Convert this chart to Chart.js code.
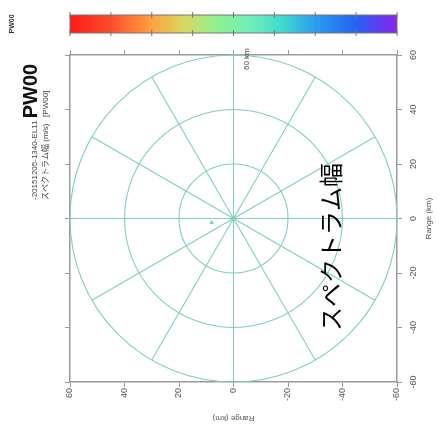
<!DOCTYPE html>
<html><head><meta charset="utf-8">
<script src="https://cdn.jsdelivr.net/npm/chart.js@4/dist/chart.umd.min.js"></script>
<style>html,body{margin:0;padding:0;background:#fff}#wrap{width:439px;height:432px}</style>
</head><body><div id="wrap"><canvas id="c" width="439" height="432"></canvas></div>
<script>
const ringValues = [20, 40, 60];
const spokeAngles = [0, 30, 60, 90, 120, 150, 180, 210, 240, 270, 300, 330];
const axisTickValues = [-60, -40, -20, 0, 20, 40, 60];
const colorbarLabels = ['0', '1', '2', '3', '4', '5', '6', '7', '8'];
const markPoints = [{x: 8, y: -1.5}];
const titleSmall = '-20151205-1340-EL11 ';
const titleBig = 'PW00';
const titleLine2 = 'スペクトラム幅 (m/s)   [PW00]';
const bigLabel = 'スペクトラム幅';
const axisTitle = 'Range (km)';
const ringLabel = '60 km';
const colorbarName = 'PW00';

const GRID = '#7fd0b8';
const AX = '#9a9a9a';
const TXT = '#555';

function fixSize(prop, v){ return function(s){ s[prop] = v; }; }
function axisCfg(pos, reverse, sizeProp){
  return {
    type: 'linear', position: pos, reverse: reverse, min: -60, max: 60,
    ticks: {display: false, stepSize: 20},
    grid: {drawOnChartArea: false, drawTicks: true, tickLength: 5, color: AX, lineWidth: 1},
    border: {display: true, color: AX, width: 1.5},
    afterFit: fixSize(sizeProp, 6)
  };
}

const polarPlugin = {
  id: 'polar',
  beforeDatasetsDraw(chart){
    const ctx = chart.ctx, xs = chart.scales.x, ys = chart.scales.y;
    const cx = xs.getPixelForValue(0), cy = ys.getPixelForValue(0);
    ctx.save();
    ctx.strokeStyle = GRID; ctx.lineWidth = 1.1;
    ringValues.forEach(r => {
      const rx = Math.abs(xs.getPixelForValue(r) - cx), ry = Math.abs(ys.getPixelForValue(r) - cy);
      ctx.beginPath(); ctx.ellipse(cx, cy, rx, ry, 0, 0, Math.PI*2); ctx.stroke();
    });
    const rmax = ringValues[ringValues.length-1];
    spokeAngles.forEach(a => {
      const t = a*Math.PI/180;
      const px = xs.getPixelForValue(rmax*Math.cos(t)), py = ys.getPixelForValue(rmax*Math.sin(t));
      ctx.beginPath(); ctx.moveTo(cx, cy); ctx.lineTo(px, py); ctx.stroke();
    });
    ctx.restore();
  },
  afterDraw(chart){
    const ctx = chart.ctx, xs = chart.scales.x, ys = chart.scales.y, ca = chart.chartArea;
    ctx.save();
    function rtext(txt, x, y, align, font, color, rot){
      ctx.save(); ctx.translate(x, y); ctx.rotate(rot === undefined ? -Math.PI/2 : rot);
      ctx.font = font; ctx.fillStyle = color; ctx.textAlign = align; ctx.textBaseline = 'middle';
      ctx.fillText(txt, 0, 0); ctx.restore();
    }
    // bottom tick labels
    axisTickValues.forEach(v => rtext(String(v), xs.getPixelForValue(v), ca.bottom + 6, 'right', '9px "Liberation Sans", Arial, sans-serif', TXT));
    // right tick labels
    axisTickValues.forEach(v => rtext(String(v), ca.right + 17, ys.getPixelForValue(v), 'center', '9px "Liberation Sans", Arial, sans-serif', TXT));
    // axis titles
    rtext(axisTitle, (ca.left+ca.right)/2, ca.bottom + 36, 'center', '8px "Liberation Sans", Arial, sans-serif', TXT, Math.PI);
    rtext(axisTitle, ca.right + 32, (ca.top+ca.bottom)/2, 'center', '8px "Liberation Sans", Arial, sans-serif', TXT);
    // ring label
    rtext(ringLabel, xs.getPixelForValue(0) + 13, ys.getPixelForValue(60) + 15, 'left', '8px "Liberation Sans", Arial, sans-serif', '#444');
    // colorbar
    const cbTop = 15, cbBot = 33;
    const g = ctx.createLinearGradient(ca.left, 0, ca.right, 0);
    g.addColorStop(0.00, '#ff1a1a');
    g.addColorStop(0.12, '#ff4a2a');
    g.addColorStop(0.25, '#ffa040');
    g.addColorStop(0.35, '#d8d860');
    g.addColorStop(0.45, '#90f090');
    g.addColorStop(0.55, '#70f0b8');
    g.addColorStop(0.65, '#40d8d0');
    g.addColorStop(0.76, '#2898f0');
    g.addColorStop(0.88, '#2860f0');
    g.addColorStop(1.00, '#8a20f0');
    ctx.fillStyle = g; ctx.fillRect(ca.left, cbTop, ca.right-ca.left, cbBot-cbTop);
    ctx.strokeStyle = '#777'; ctx.lineWidth = 1; ctx.strokeRect(ca.left, cbTop, ca.right-ca.left, cbBot-cbTop);
    colorbarLabels.forEach((l, i) => {
      const px = ca.left + (ca.right-ca.left)*i/(colorbarLabels.length-1);
      ctx.beginPath(); ctx.moveTo(px, cbTop-3); ctx.lineTo(px, cbTop+3); ctx.moveTo(px, cbBot-3); ctx.lineTo(px, cbBot+3); ctx.stroke();
      rtext(l, px, -3, 'center', '9px "Liberation Sans", Arial, sans-serif', TXT, 0);
    });
    rtext(colorbarName, 12, 24, 'center', 'bold 7px "Liberation Sans", Arial, sans-serif', '#333');
    // titles
    ctx.save(); ctx.translate(37, 200); ctx.rotate(-Math.PI/2);
    ctx.textBaseline = 'alphabetic'; ctx.textAlign = 'left'; ctx.fillStyle = '#444';
    ctx.font = '8px "Liberation Sans", "Noto Sans CJK JP", sans-serif';
    ctx.fillText(titleSmall, 0, 0);
    const w = ctx.measureText(titleSmall).width;
    ctx.font = 'bold 20px "Liberation Sans", Arial, sans-serif'; ctx.fillStyle = '#111';
    ctx.fillText(titleBig, w, 0);
    ctx.font = '8px "Liberation Sans", "Noto Sans CJK JP", sans-serif'; ctx.fillStyle = '#444';
    ctx.fillText(titleLine2, 0, 11);
    ctx.restore();
    // big label
    rtext(bigLabel, 331, 247, 'center', '24px "Noto Sans CJK JP", sans-serif', '#000');
    ctx.restore();
  }
};

new Chart(document.getElementById('c'), {
  type: 'scatter',
  data: {datasets: [{data: markPoints, pointRadius: 2, pointStyle: 'triangle', backgroundColor: GRID, borderColor: GRID}]},
  options: {
    responsive: false, animation: false,
    layout: {padding: {left: 64, right: 36, top: 49, bottom: 44}},
    plugins: {legend: {display: false}, tooltip: {enabled: false}},
    scales: {
      x: axisCfg('bottom', true, 'height'),
      x2: axisCfg('top', true, 'height'),
      y: axisCfg('right', false, 'width'),
      y2: axisCfg('left', false, 'width')
    }
  },
  plugins: [polarPlugin]
});
</script></body></html>
